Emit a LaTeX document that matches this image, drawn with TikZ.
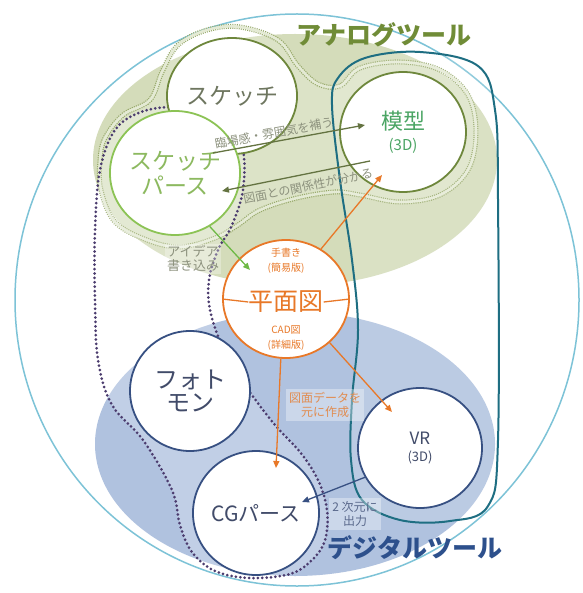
\documentclass[tikz,border=0pt]{standalone}
\usepackage{fontspec}
\setmainfont{Noto Sans CJK JP}
\usetikzlibrary{shapes.geometric,arrows.meta}
\definecolor{anafill}{RGB}{212,220,186}
\definecolor{groupband}{RGB}{228,234,212}
\definecolor{groupdash}{RGB}{150,168,105}
\definecolor{digfill}{RGB}{176,194,223}
\definecolor{outerc}{RGB}{125,195,215}
\definecolor{tealc}{RGB}{30,110,130}
\definecolor{olivec}{RGB}{110,135,60}
\definecolor{lgreen}{RGB}{140,195,85}
\definecolor{orangec}{RGB}{232,120,40}
\definecolor{navyc}{RGB}{55,80,130}
\definecolor{purpc}{RGB}{75,60,110}
\definecolor{sktext}{RGB}{110,118,95}
\definecolor{sptext}{RGB}{140,185,95}
\definecolor{mktext}{RGB}{75,165,100}
\definecolor{anatitle}{RGB}{112,140,55}
\definecolor{digtitle}{RGB}{45,80,140}
\definecolor{fotext}{RGB}{65,75,105}
\definecolor{arrlbl}{RGB}{140,145,125}
\definecolor{olivearr}{RGB}{100,115,65}
\definecolor{greenarr}{RGB}{110,185,70}
\definecolor{orangelbl}{RGB}{225,140,80}
\definecolor{bluelbl}{RGB}{90,105,140}
\newcommand{\fs}[1]{\fontsize{#1}{#1}\selectfont}
\begin{document}
\begin{tikzpicture}[x=1pt,y=-1pt,
  circ/.style={ellipse, fill=white, line width=1.8pt, inner sep=0pt, align=center},
  tip/.style={-{Triangle[length=7pt,width=6pt]}, line width=1.3pt},
  lbl/.style={inner sep=0pt, align=center}]
\useasboundingbox (0,0) rectangle (582,593);
\fill[white] (0,0) rectangle (582,593);
% regions
\fill[anafill] (295,160) ellipse [x radius=202pt, y radius=126pt];
\fill[digfill] (295,444) ellipse [x radius=200pt, y radius=132pt];
\draw[outerc, line width=1.5pt] (297,300) ellipse [x radius=282pt, y radius=286pt];
% analog group band
\path[fill=white, fill opacity=0.2] plot[smooth cycle, tension=0.6] coordinates {
 (150,100) (162,72) (178,45) (207,30) (240,27) (278,40) (298,66) (318,84) (340,86)
 (360,68) (400,62) (440,70) (468,95) (476,132) (468,170) (440,195) (400,202)
 (360,195) (335,192) (297,198) (260,210) (238,225) (215,238) (180,247) (147,240)
 (115,222) (101,190) (100,160) (105,138) (123,115)};
\draw[groupdash, line width=5pt, dash pattern=on 1pt off 1.2pt] plot[smooth cycle, tension=0.6] coordinates {
 (150,100) (162,72) (178,45) (207,30) (240,27) (278,40) (298,66) (318,84) (340,86)
 (360,68) (400,62) (440,70) (468,95) (476,132) (468,170) (440,195) (400,202)
 (360,195) (335,192) (297,198) (260,210) (238,225) (215,238) (180,247) (147,240)
 (115,222) (101,190) (100,160) (105,138) (123,115)};
\draw[groupband, line width=2.6pt] plot[smooth cycle, tension=0.6] coordinates {
 (150,100) (162,72) (178,45) (207,30) (240,27) (278,40) (298,66) (318,84) (340,86)
 (360,68) (400,62) (440,70) (468,95) (476,132) (468,170) (440,195) (400,202)
 (360,195) (335,192) (297,198) (260,210) (238,225) (215,238) (180,247) (147,240)
 (115,222) (101,190) (100,160) (105,138) (123,115)};
% dotted group
\path[fill=white, fill opacity=0.22]
 plot[smooth cycle, tension=0.6] coordinates {
 (141,112) (175,107) (207,113) (230,125) (243,150) (243,190) (232,225) (218,250)
 (209,280) (210,310) (222,345) (245,385) (275,425) (300,452) (318,480) (327,510)
 (325,540) (312,560) (290,574) (250,578) (215,571) (192,552) (180,525) (172,490)
 (143,440) (112,405) (98,360) (95,300) (95,230) (100,170) (115,130)};
\draw[purpc, line width=3pt, line cap=round, dash pattern=on 0pt off 4.4pt]
 plot[smooth cycle, tension=0.6] coordinates {
 (141,112) (175,107) (207,113) (230,125) (243,150) (243,190) (232,225) (218,250)
 (209,280) (210,310) (222,345) (245,385) (275,425) (300,452) (318,480) (327,510)
 (325,540) (312,560) (290,574) (250,578) (215,571) (192,552) (180,525) (172,490)
 (143,440) (112,405) (98,360) (95,300) (95,230) (100,170) (115,130)};
% teal capsule
\path[fill=white, fill opacity=0.15]
 plot[smooth cycle, tension=0.6] coordinates {
 (332,105) (340,180) (352,260) (358,330) (352,400) (351,460) (362,500) (400,520)
 (450,521) (488,506) (498,440) (498,200) (495,110) (478,66) (420,52) (365,58) (338,78)};
\draw[tealc, line width=2pt]
 plot[smooth cycle, tension=0.6] coordinates {
 (332,105) (340,180) (352,260) (358,330) (352,400) (351,460) (362,500) (400,520)
 (450,521) (488,506) (498,440) (498,200) (495,110) (478,66) (420,52) (365,58) (338,78)};
% circles
\node[circ, draw=olivec, minimum width=124pt, minimum height=116pt, text=sktext] (sk) at (232,96) {\fs{23}スケッチ};
\node[circ, draw=lgreen, minimum width=126pt, minimum height=124pt, text=sptext] (sp) at (175,173) {\fs{23}スケッチ\\[4pt]\fs{23}パース};
\node[circ, draw=olivec, minimum width=126pt, minimum height=120pt, text=mktext] (mk) at (403,132) {\fs{22}模型\\[6pt]\fs{15}(3D)};
\node[circ, draw=orangec, minimum width=126pt, minimum height=118pt] (pm) at (286,299) {};
\node[circ, draw=navyc, minimum width=120pt, minimum height=120pt, text=fotext] (ph) at (190,391) {\fs{24}フォト\\[3pt]\fs{24}モン};
\node[circ, draw=navyc, minimum width=126pt, minimum height=124pt, text=fotext] (cg) at (256,513) {\fs{21}CGパース};
\node[circ, draw=navyc, minimum width=124pt, minimum height=120pt, text=fotext] (vr) at (420,448) {\fs{17}VR\\[5pt]\fs{13}(3D)};
% plan circle contents
\node[lbl, text=orangec] (pmt) at (286,302) {\fs{25}平面図};
\draw[orangec, line width=1.3pt] (pm.west) -- (pmt.west);
\draw[orangec, line width=1.3pt] (pm.east) -- (pmt.east);
\node[lbl, text=orangec] (hand) at (286,261) {\fs{10}手書き\\[3pt]\fs{10}(簡易版)};
\node[lbl, text=orangec] (cad) at (286,338) {\fs{10}CAD図\\[3pt]\fs{10}(詳細版)};
% arrows
\coordinate (a1s) at (213,153);
\coordinate (a1e) at (365,125);
\coordinate (a2s) at (370,161);
\coordinate (a2e) at (222,191);
\coordinate (a3e) at (250,270);
\coordinate (a4e) at (382,175);
\coordinate (a5e) at (276,468);
\coordinate (a6e) at (392,412);
\coordinate (a7e) at (302,502);
\draw[tip, olivearr] (a1s) -- (a1e);
\draw[tip, olivearr] (a2s) -- (a2e);
\draw[tip, greenarr] (sp.-57) -- (a3e);
\draw[tip, orangec] (pm.55) -- (a4e);
\draw[tip, orangec] (pm.-95) -- (a5e);
\draw[tip, orangec] (pm.-45) -- (a6e);
\draw[tip, navyc] (vr.208) -- (a7e);
% arrow labels
\node[lbl, text=arrlbl, rotate=10.5] at (274,133) {\fs{12}臨場感・雰囲気を補う};
\node[lbl, text=arrlbl, rotate=11.5] at (308,186) {\fs{12}図面との関係性が分かる};
\node[lbl, text=arrlbl, fill=white, fill opacity=0.3, text opacity=1, inner sep=2pt] at (193,259) {\fs{13}アイデア\\[2pt]\fs{13}書き込み};
\node[lbl, text=orangelbl, fill=white, fill opacity=0.35, text opacity=1, inner sep=3pt] at (325,405) {\fs{12}図面データを\\[2pt]\fs{12}元に作成};
\node[lbl, text=bluelbl, fill=white, fill opacity=0.35, text opacity=1, inner sep=3pt] at (355,514) {\fs{12}2 次元に\\[2pt]\fs{12}出力};
% titles
\node[lbl, text=anatitle] at (384,35) {\fs{25}\bfseries アナログツール};
\node[lbl, text=digtitle] at (415,548) {\fs{25}\bfseries デジタルツール};
\end{tikzpicture}
\end{document}
